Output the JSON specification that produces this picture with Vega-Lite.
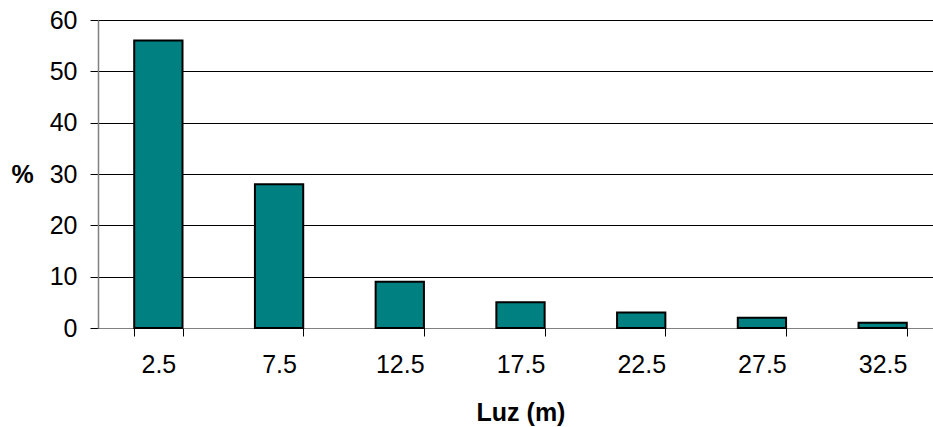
{
  "$schema": "https://vega.github.io/schema/vega-lite/v6.json",
  "autosize": "none",
  "padding": {"left": 98, "top": 20, "right": 0, "bottom": 99},
  "width": 845,
  "height": 308,
  "background": "white",
  "config": {"view": {"stroke": null}, "font": "Liberation Sans"},
  "data": {"values": [
    {"luz": "2.5", "pct": 56},
    {"luz": "7.5", "pct": 28},
    {"luz": "12.5", "pct": 9},
    {"luz": "17.5", "pct": 5},
    {"luz": "22.5", "pct": 3},
    {"luz": "27.5", "pct": 2},
    {"luz": "32.5", "pct": 1}
  ]},
  "mark": {"type": "bar", "fill": "#008080", "stroke": "#000000", "strokeWidth": 2},
  "encoding": {
    "x": {
      "field": "luz", "type": "nominal", "sort": null,
      "scale": {"paddingInner": 0.6, "paddingOuter": 0.3},
      "axis": {
        "title": "Luz (m)", "titleFont": "Liberation Sans", "titleFontSize": 25, "titleFontWeight": "bold", "titleColor": "#000000",
        "titleBaseline": "middle", "titleY": 84,
        "labelAngle": 0, "labelFontSize": 25, "labelColor": "#000000", "labelPadding": 16,
        "domainColor": "#808080", "domainWidth": 1,
        "tickColor": "#000000", "tickSize": 8, "tickBand": "extent",
        "grid": false
      }
    },
    "y": {
      "field": "pct", "type": "quantitative",
      "scale": {"domain": [0, 60], "nice": false},
      "axis": {
        "title": "%", "titleAngle": 0, "titleFontSize": 25, "titleFontWeight": "bold", "titleColor": "#000000",
        "titleX": -76, "titleY": 154, "titleAlign": "center", "titleBaseline": "middle",
        "values": [0, 10, 20, 30, 40, 50, 60],
        "labelFontSize": 25, "labelColor": "#000000", "labelPadding": 13,
        "domainColor": "#808080", "domainWidth": 1.5,
        "tickColor": "#000000", "tickSize": 8,
        "grid": true, "gridColor": "#000000", "gridWidth": 1, "gridOpacity": 1
      }
    }
  }
}
